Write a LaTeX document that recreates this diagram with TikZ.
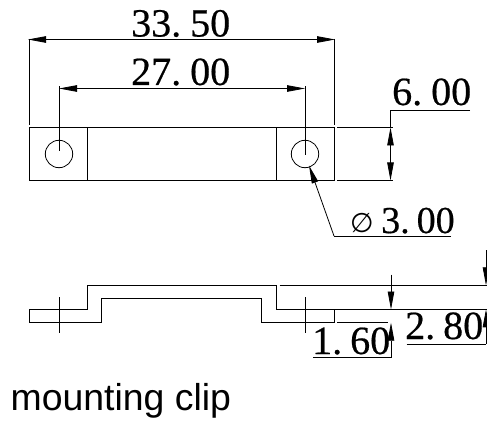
\documentclass[tikz,border=0pt]{standalone}
\usepackage{fontspec}
\usetikzlibrary{arrows.meta}
\newfontfamily\labelsans{Liberation Sans}
\newfontfamily\symfont{DejaVu Sans}
\newfontfamily\dimfont[FakeBold=0.5]{Liberation Serif}
\tikzset{
  x=1pt,y=-1pt,
  part/.style={line width=0.8pt,black},
  dimline/.style={line width=0.8pt,black},
  tipped/.style={dimline,-{Triangle[length=18pt,width=6.5pt]}},
  twotips/.style={dimline,{Triangle[length=18pt,width=6.5pt]}-{Triangle[length=18pt,width=6.5pt]}},
  dimtext/.style={anchor=base west,inner sep=0pt,font=\dimfont\fontsize{40}{40}\selectfont},
  captiontext/.style={anchor=base west,inner sep=0pt,font=\labelsans\fontsize{37.4}{37.4}\selectfont},
}
\newcommand{\gap}{\kern9pt}
\begin{document}
\begin{tikzpicture}
\useasboundingbox (0,0) rectangle (487,422);
% coordinates
\coordinate (L33) at (28,39.5);
\coordinate (R33) at (335,39.5);
\coordinate (L27) at (59,88.5);
\coordinate (R27) at (305,88.5);
\coordinate (holeL) at (59,154);
\coordinate (holeR) at (305,154);
% top view
\draw[part] (29.5,127.5) rectangle (334,180);
\draw[part] (87,127.5) -- (87,180);
\draw[part] (276.5,127.5) -- (276.5,180);
\draw[part] (holeL) circle[radius=13.7];
\draw[part] (holeR) circle[radius=13.7];
% 33.50
\draw[dimline] (29.5,39) -- (29.5,125);
\draw[dimline] (334,39) -- (334,125);
\draw[twotips] (L33) -- (R33);
\node[dimtext] (d33) at (131,36.5) {33.\gap50};
% 27.00
\draw[dimline] (59,86.5) -- (59,151);
\draw[dimline] (305,86.5) -- (305,155);
\draw[twotips] (L27) -- (R27);
\node[dimtext] (d27) at (131,85) {27.\gap00};
% 6.00
\draw[dimline] (337,127.5) -- (393,127.5);
\draw[dimline] (337,180) -- (393,180);
\draw[dimline] (470,110.7) -- (390.5,110.7) -- (390.5,128);
\coordinate (s6t) at (390.5,127.5);
\coordinate (s6b) at (390.5,180.5);
\draw[twotips] (s6t) -- (s6b);
\node[dimtext] (d6) at (392,105) {6.\gap00};
% diameter
\coordinate (lead) at (334,236);
\coordinate (leadtip) at (309,165.5);
\draw[dimline] (451,236) -- (lead);
\draw[tipped] (lead) -- (leadtip);
\node[anchor=base west,inner sep=0pt,font=\symfont\fontsize{27}{27}\selectfont] (phi) at (350,232) {∅};
\node[dimtext,font=\dimfont\fontsize{38}{38}\selectfont] (d3) at (381,233) {3.\kern7pt00};
% side view
\draw[part] (29.5,309.3) -- (87,309.3) -- (87,285) -- (276.5,285) -- (276.5,309.3) -- (334,309.3)
  -- (334,322.7) -- (261.7,322.7) -- (261.7,298.5) -- (101.7,298.5) -- (101.7,322.7) -- (29.5,322.7) -- cycle;
\draw[part] (59,297) -- (59,333);
\draw[part] (305,297) -- (305,333);
\draw[dimline] (279.5,285) -- (487,285);
\draw[dimline] (334,309.3) -- (487,309.3);
\draw[dimline] (337,322.7) -- (388,322.7);
% 1.60
\coordinate (a16top) at (391,274.5);
\coordinate (a16tip) at (391,309.5);
\coordinate (b16bot) at (391,357.7);
\coordinate (b16tip) at (391,322.7);
\draw[tipped] (a16top) -- (a16tip);
\draw[tipped] (b16bot) -- (b16tip);
\draw[dimline] (b16bot) -- (312.5,357.7);
\node[dimtext] (d16) at (312,354) {1.\kern8pt60};
% 2.80
\coordinate (a28top) at (486,250);
\coordinate (a28tip) at (486,285.3);
\coordinate (b28bot) at (486,344);
\coordinate (b28tip) at (486,309.3);
\draw[tipped] (a28top) -- (a28tip);
\draw[tipped] (b28bot) -- (b28tip);
\draw[dimline] (406.5,344) -- (b28bot);
\node[dimtext] (d28) at (405,339) {2.\kern8pt80};
% caption
\node[captiontext] (cap) at (10.5,410.7) {mounting clip};
\end{tikzpicture}
\end{document}
